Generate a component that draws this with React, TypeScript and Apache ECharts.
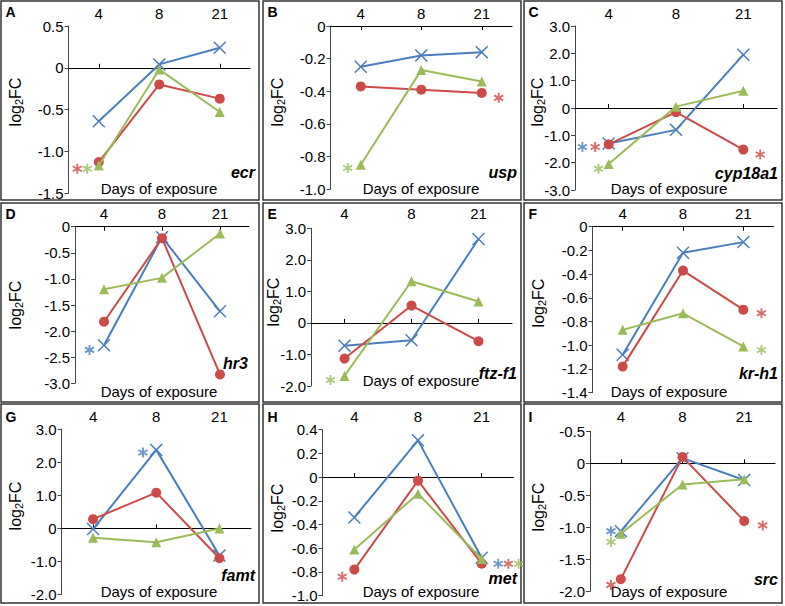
import React, { useEffect, useRef } from 'react';
import * as echarts from 'echarts';

// ---------------- data ----------------
const categories = ['4', '8', '21'];
const panelLetters = ['A', 'B', 'C', 'D', 'E', 'F', 'G', 'H', 'I'];
const genes = ['ecr', 'usp', 'cyp18a1', 'hr3', 'ftz-f1', 'kr-h1', 'famt', 'met', 'src'];

const blueValues = [
  [-0.64, 0.04, 0.24],
  [-0.25, -0.18, -0.16],
  [-1.3, -0.8, 1.95],
  [-2.27, -0.2, -1.62],
  [-0.72, -0.55, 2.66],
  [-1.08, -0.22, -0.13],
  [-0.02, 2.37, -0.82],
  [-0.34, 0.31, -0.68],
  [-1.06, 0.08, -0.26],
];
const redValues = [
  [-1.13, -0.2, -0.37],
  [-0.37, -0.39, -0.41],
  [-1.33, -0.15, -1.52],
  [-1.82, -0.22, -2.83],
  [-1.13, 0.55, -0.58],
  [-1.18, -0.37, -0.7],
  [0.28, 1.08, -0.9],
  [-0.78, -0.03, -0.73],
  [-1.81, 0.1, -0.9],
];
const greenValues = [
  [-1.17, -0.02, -0.53],
  [-0.85, -0.27, -0.34],
  [-2.05, 0.05, 0.63],
  [-1.2, -0.98, -0.13],
  [-1.68, 1.32, 0.68],
  [-0.87, -0.73, -1.01],
  [-0.28, -0.42, 0.0],
  [-0.61, -0.14, -0.69],
  [-1.1, -0.33, -0.25],
];

// significance asterisks: [position along the 0..3 category span, log2FC]
const blueStars = [[], [], [[0.11, -1.43]], [[0.25, -2.36]], [], [], [[1.29, 2.29]], [[2.76, -0.73]], [[0.34, -1.06]]];
const redStars = [
  [[0.145, -1.21]], [[2.78, -0.44]], [[0.3, -1.43], [2.75, -1.7]], [], [], [[2.8, -0.73]], [],
  [[0.31, -0.84], [2.92, -0.73]], [[0.34, -1.9], [2.8, -0.97]],
];
const greenStars = [[[0.31, -1.21]], [[0.285, -0.87]], [[0.35, -2.22]], [], [[0.29, -1.81]], [[2.8, -1.04]], [], [[3.08, -0.73]], [[0.34, -1.23]]];

const yMin = [-1.5, -1.0, -3, -3, -2, -1.4, -2, -1.0, -2];
const yMax = [0.5, 0, 3, 0, 3, 0, 3, 0.4, 0.5];
const yStep = [0.5, 0.2, 1, 0.5, 1, 0.2, 1, 0.2, 0.5];
const yTickLabels = [
  ['-1.5', '-1.0', '-0.5', '0', '0.5'],
  ['-1.0', '-0.8', '-0.6', '-0.4', '-0.2', '0'],
  ['-3.0', '-2.0', '-1.0', '0', '1.0', '2.0', '3.0'],
  ['-3.0', '-2.5', '-2.0', '-1.5', '-1.0', '-0.5', '0'],
  ['-2.0', '-1.0', '0', '1.0', '2.0', '3.0'],
  ['-1.4', '-1.2', '-1.0', '-0.8', '-0.6', '-0.4', '-0.2', '0'],
  ['-2.0', '-1.0', '0', '1.0', '2.0', '3.0'],
  ['-1.0', '-0.8', '-0.6', '-0.4', '-0.2', '0', '0.2', '0.4'],
  ['-2.0', '-1.5', '-1.0', '-0.5', '0', '-0.5'],
];

// ---------------- layout ----------------
const plotBoxes = [
  [68.5, 26, 250, 193],
  [330.5, 26, 512, 189.3],
  [575, 26, 777, 190],
  [75, 226.7, 249, 383.3],
  [311, 228.3, 512, 386],
  [592.5, 226.7, 773.5, 392.7],
  [61.5, 429, 251, 594.7],
  [322.5, 429.7, 513.5, 595.7],
  [590, 431.3, 775, 591.3],
];
const colLeft = [1, 263, 524];
const rowTop = [1, 203, 404];
const cellW = 258;
const cellH = 199;
const catLabelY = [13, 213.5, 416.5];
const letterY = [12, 214, 417];
const daysX = [159, 421, 669];
const daysY = [188.5, 188, 188.5, 391.5, 380, 391.5, 591, 591, 591];
const geneRight = [255, 517, 778, 248, 517, 778, 255, 517, 778];
const geneY = [172, 172, 173, 363, 373, 373, 575, 578, 579];
const ylabX = [15, 277, 537, 15, 273, 538, 15, 277, 538];
const ylabY = [102, 102, 102, 305, 302, 303, 506, 508, 507];

const BLUE = '#4a7ebb';
const RED = '#cc4a47';
const GREEN = '#9bbb59';
const FONT = '"Liberation Sans", Arial, sans-serif';

const CROSS = 'path://M8,0 L50,42 L92,0 L100,8 L58,50 L100,92 L92,100 L50,58 L8,100 L0,92 L42,50 L0,8 Z';
const STAR =
  'path://M41,0 L59,0 L59,100 L41,100 Z M2.2,32.8 L11.2,17.2 L97.8,67.2 L88.8,82.8 Z M11.2,82.8 L2.2,67.2 L88.8,17.2 L97.8,32.8 Z';

function buildOption() {
  const grid: any[] = [];
  const xAxis: any[] = [];
  const yAxis: any[] = [];
  const series: any[] = [];
  const graphic: any[] = [];

  for (let p = 0; p < 9; p++) {
    const r = Math.floor(p / 3);
    const c = p % 3;
    const [l, t, rt, b] = plotBoxes[p];
    grid.push({ left: l, top: t, width: rt - l, height: b - t, containLabel: false });

    // zero-line axis with ticks
    xAxis.push({
      type: 'category',
      gridIndex: p,
      data: categories,
      position: yMax[p] === 0 ? 'top' : 'bottom',
      axisLine: { show: true, onZero: true, lineStyle: { color: '#000', width: 1 } },
      axisTick: { show: true, alignWithLabel: true, inside: true, length: 4, lineStyle: { color: '#000' } },
      axisLabel: { show: false },
      splitLine: { show: false },
    });
    // category labels at top
    xAxis.push({
      type: 'category',
      gridIndex: p,
      data: categories,
      position: 'top',
      axisLine: { show: false, onZero: false },
      axisTick: { show: false },
      axisLabel: {
        show: true,
        interval: 0,
        fontSize: 15,
        fontFamily: FONT,
        color: '#000',
        margin: t - catLabelY[r] - 7.5,
      },
      splitLine: { show: false },
    });
    // hidden value axis for asterisk annotations
    xAxis.push({ type: 'value', gridIndex: p, min: 0, max: 3, show: false });

    yAxis.push({
      type: 'value',
      gridIndex: p,
      min: yMin[p],
      max: yMax[p],
      interval: yStep[p],
      axisLine: { show: true, onZero: false, lineStyle: { color: '#444', width: 1 } },
      axisTick: { show: true, length: 4, lineStyle: { color: '#444' } },
      axisLabel: {
        fontSize: 15,
        fontFamily: FONT,
        color: '#000',
        margin: 5,
        formatter: (v: number, i: number) => {
          const lab = yTickLabels[p][i];
          return lab !== undefined ? lab : String(v);
        },
      },
      splitLine: { show: false },
    });

    const xi = p * 3;
    const common = { xAxisIndex: xi, yAxisIndex: p, silent: true };
    series.push({
      ...common,
      type: 'line',
      data: blueValues[p],
      symbol: CROSS,
      symbolSize: 13,
      lineStyle: { color: BLUE, width: 2 },
      itemStyle: { color: BLUE },
      z: 3,
    });
    series.push({
      ...common,
      type: 'line',
      data: redValues[p],
      symbol: 'circle',
      symbolSize: 10,
      lineStyle: { color: RED, width: 2 },
      itemStyle: { color: RED },
      z: 4,
    });
    series.push({
      ...common,
      type: 'line',
      data: greenValues[p],
      symbol: 'triangle',
      symbolSize: 10,
      lineStyle: { color: GREEN, width: 2 },
      itemStyle: { color: GREEN },
      z: 5,
    });
    const stars: [any[][], string][] = [
      [blueStars[p], BLUE],
      [redStars[p], RED],
      [greenStars[p], GREEN],
    ];
    stars.forEach(([d, col]) => {
      if (d.length) {
        series.push({
          type: 'scatter',
          xAxisIndex: xi + 2,
          yAxisIndex: p,
          data: d,
          symbol: STAR,
          symbolSize: 10,
          clip: false,
          silent: true,
          itemStyle: { color: col },
          z: 6,
        });
      }
    });

    // panel frame
    graphic.push({
      type: 'rect',
      shape: { x: colLeft[c], y: rowTop[r], width: cellW, height: cellH },
      style: { fill: 'none', stroke: '#333', lineWidth: 1.5 },
      silent: true,
      z: 0,
    });
    // panel letter
    graphic.push({
      type: 'text',
      x: colLeft[c] + 4.5,
      y: letterY[r],
      style: {
        text: panelLetters[p],
        font: `bold 14px ${FONT}`,
        fill: '#000',
        align: 'left',
        verticalAlign: 'middle',
      },
      silent: true,
    });
    // gene name
    graphic.push({
      type: 'text',
      x: geneRight[p],
      y: geneY[p],
      style: {
        text: genes[p],
        font: `italic bold 16px ${FONT}`,
        fill: '#000',
        align: 'right',
        verticalAlign: 'middle',
      },
      silent: true,
    });
    // x title
    graphic.push({
      type: 'text',
      x: daysX[c],
      y: daysY[p],
      style: {
        text: 'Days of exposure',
        font: `15px ${FONT}`,
        fill: '#000',
        align: 'center',
        verticalAlign: 'middle',
      },
      silent: true,
    });
    // y title
    graphic.push({
      type: 'text',
      x: ylabX[p],
      y: ylabY[p],
      rotation: Math.PI / 2,
      style: {
        text: '{a|log}{b|2}{a|FC}',
        fill: '#000',
        align: 'center',
        verticalAlign: 'middle',
        rich: {
          a: { fontSize: 16, fontFamily: FONT, lineHeight: 18, fill: '#000' },
          b: { fontSize: 11, fontFamily: FONT, lineHeight: 10, verticalAlign: 'bottom', fill: '#000' },
        },
      },
      silent: true,
    });
  }

  return {
    animation: false,
    backgroundColor: '#fff',
    textStyle: { fontFamily: FONT },
    grid,
    xAxis,
    yAxis,
    series,
    graphic,
  };
}

export default function App() {
  const ref = useRef<HTMLDivElement>(null);
  useEffect(() => {
    if (!ref.current) return;
    const chart = echarts.init(ref.current, null, { renderer: 'svg' });
    chart.setOption(buildOption() as any);
    return () => chart.dispose();
  }, []);
  return (
    <div
      ref={ref}
      style={{ position: 'absolute', left: 0, top: 0, width: 785, height: 606, background: '#fff' }}
    />
  );
}
